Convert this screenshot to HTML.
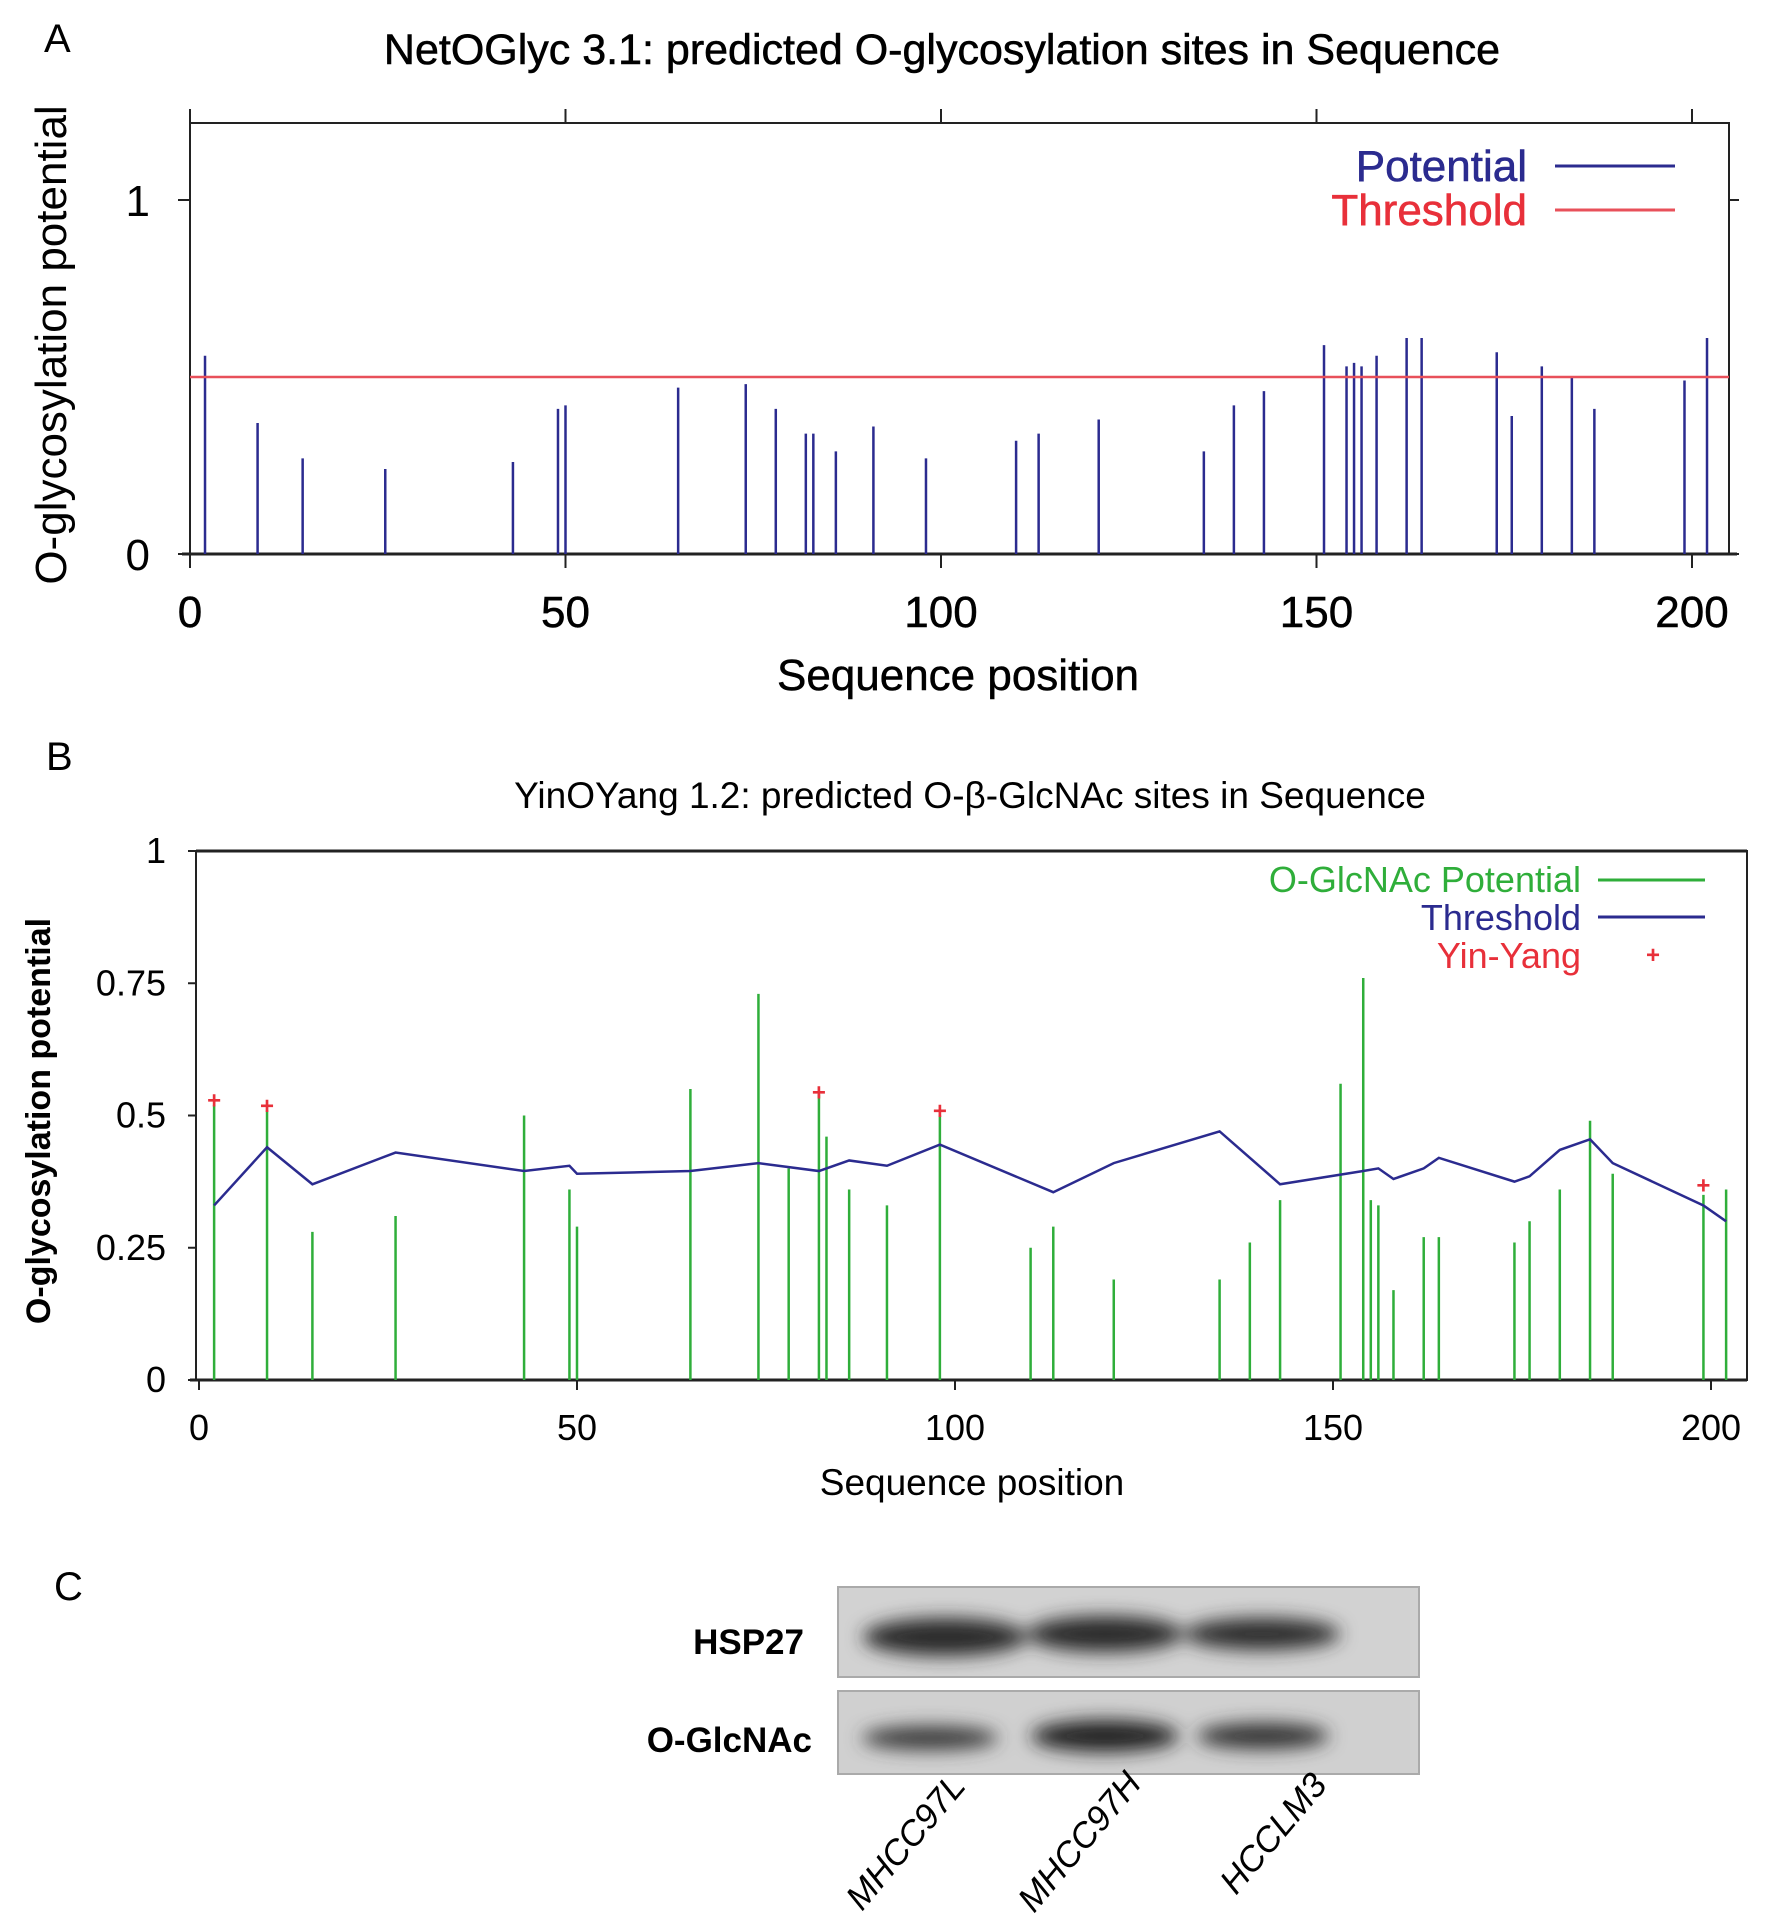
<!DOCTYPE html>
<html><head><meta charset="utf-8"><style>
html,body{margin:0;padding:0;background:#fff;}
svg{display:block;font-family:"Liberation Sans",sans-serif;}
</style></head><body>
<svg id="fig" width="1772" height="1918" viewBox="0 0 1772 1918">
<defs>
<filter id="blur" x="-20%" y="-50%" width="140%" height="200%"><feGaussianBlur stdDeviation="9"/></filter>
</defs>
<text x="44" y="52" font-size="40">A</text>
<text x="942" y="64" font-size="43" text-anchor="middle" stroke="#000" stroke-width="0.6">NetOGlyc 3.1: predicted O-glycosylation sites in Sequence</text>
<g id="pa"></g>
<text x="0" y="0" font-size="44" text-anchor="middle" transform="translate(66,345) rotate(-90)">O-glycosylation potential</text>
<text x="958" y="690" font-size="44" text-anchor="middle" stroke="#000" stroke-width="0.5">Sequence position</text>

<text x="46" y="770" font-size="40">B</text>
<text x="970" y="808" font-size="37" text-anchor="middle">YinOYang 1.2: predicted O-β-GlcNAc sites in Sequence</text>
<g id="pb"></g>
<text x="0" y="0" font-size="34" font-weight="bold" text-anchor="middle" transform="translate(50,1121) rotate(-90)">O-glycosylation potential</text>
<text x="972" y="1495" font-size="37" text-anchor="middle">Sequence position</text>

<text x="54" y="1600" font-size="40">C</text>
<g>
<rect x="838" y="1587" width="581" height="90" fill="#d2d2d2" stroke="#aaa" stroke-width="2"/>
<rect x="838" y="1691" width="581" height="83" fill="#d0d0d0" stroke="#aaa" stroke-width="2"/>
<g filter="url(#blur)">
<ellipse cx="945" cy="1637" rx="82" ry="19" fill="#2a2a2a"/>
<ellipse cx="1105" cy="1634" rx="78" ry="18" fill="#2a2a2a"/>
<ellipse cx="1262" cy="1634" rx="78" ry="16" fill="#2e2e2e"/>
<ellipse cx="930" cy="1738" rx="68" ry="12" fill="#3a3a3a"/>
<ellipse cx="1105" cy="1736" rx="74" ry="16" fill="#222"/>
<ellipse cx="1263" cy="1736" rx="66" ry="13" fill="#333"/>
</g>
</g>
<text x="804" y="1654" font-size="35" font-weight="bold" text-anchor="end">HSP27</text>
<text x="812" y="1752" font-size="35" font-weight="bold" text-anchor="end">O-GlcNAc</text>
<text font-size="35" font-style="italic" transform="translate(862,1912) rotate(-50)">MHCC97L</text>
<text font-size="35" font-style="italic" transform="translate(1034,1914) rotate(-50)">MHCC97H</text>
<text font-size="35" font-style="italic" transform="translate(1236,1896) rotate(-50)">HCCLM3</text>
</svg>
<script>
// Panel A data
const aPositions=[2,9,15,26,43,49,50,65,74,78,82,83,86,91,98,110,113,121,135,139,143,151,154,155,156,158,162,164,174,176,180,184,187,199,202];
const aValues=[0.56,0.37,0.27,0.24,0.26,0.41,0.42,0.47,0.48,0.41,0.34,0.34,0.29,0.36,0.27,0.32,0.34,0.38,0.29,0.42,0.46,0.59,0.53,0.54,0.53,0.56,0.61,0.61,0.57,0.39,0.53,0.50,0.41,0.49,0.61];
const aThreshold=0.5;
const aXTicks=[0,50,100,150,200];
const aYTicks=[0,1];
// Panel B data
const bPositions=[2,9,15,26,43,49,50,65,74,78,82,83,86,91,98,110,113,121,135,139,143,151,154,155,156,158,162,164,174,176,180,184,187,199,202];
const bValues=[0.52,0.51,0.28,0.31,0.50,0.36,0.29,0.55,0.73,0.40,0.54,0.46,0.36,0.33,0.50,0.25,0.29,0.19,0.19,0.26,0.34,0.56,0.76,0.34,0.33,0.17,0.27,0.27,0.26,0.30,0.36,0.49,0.39,0.35,0.36];
const bThreshPos=[2,9,15,26,43,49,50,65,74,82,86,91,98,113,121,135,143,154,156,158,162,164,174,176,180,184,187,199,202];
const bThreshVal=[0.33,0.44,0.37,0.43,0.395,0.405,0.39,0.395,0.41,0.395,0.415,0.405,0.445,0.355,0.41,0.47,0.37,0.395,0.40,0.38,0.40,0.42,0.375,0.385,0.435,0.455,0.41,0.33,0.30];
const bYinYangPos=[2,9,82,98,199];
const bYinYangVal=[0.53,0.52,0.545,0.51,0.37];
const bXTicks=[0,50,100,150,200];
const bYTicks=[0,0.25,0.5,0.75,1];
const bYTickLabels=["0","0.25","0.5","0.75","1"];

const NS="http://www.w3.org/2000/svg";
function mk(parent,tag,attrs){const e=document.createElementNS(NS,tag);for(const k in attrs)e.setAttribute(k,attrs[k]);parent.appendChild(e);return e;}

// ---- Panel A
(function(){
const g=document.getElementById('pa');
const L=190,R=1729,T=123,B=554;
const xs=v=>190+v*(1692-190)/200;
const ys=v=>554-v*(554-200);
let e=mk(g,'rect',{x:L,y:T,width:R-L,height:B-T,fill:'none',stroke:'#222','stroke-width':2});


e=mk(g,'line',{x1:L-8,x2:R+8,y1:B,y2:B,stroke:'#222','stroke-width':3});


aXTicks.forEach(t=>{
 mk(g,'line',{x1:xs(t),x2:xs(t),y1:B,y2:B+14,stroke:'#222','stroke-width':2});
 mk(g,'line',{x1:xs(t),x2:xs(t),y1:T,y2:T-14,stroke:'#222','stroke-width':2});
 const tx=mk(g,'text',{x:xs(t),y:627,'font-size':44,'text-anchor':'middle',stroke:'#000','stroke-width':0.5});tx.textContent=t;
 
 
});
aYTicks.forEach(t=>{
 mk(g,'line',{x1:L-12,x2:L,y1:ys(t),y2:ys(t),stroke:'#222','stroke-width':2});
 mk(g,'line',{x1:R,x2:R+10,y1:ys(t),y2:ys(t),stroke:'#222','stroke-width':2});
 const tx=mk(g,'text',{x:150,y:ys(t)+16,'font-size':44,'text-anchor':'end'});tx.textContent=t;
 
 
});
aPositions.forEach((p,i)=>{
 const b=mk(g,'line',{x1:xs(p),x2:xs(p),y1:B,y2:ys(aValues[i]),stroke:'#2b2b8f','stroke-width':2.5});
 
 
});
e=mk(g,'line',{x1:L,x2:R,y1:ys(aThreshold),y2:ys(aThreshold),stroke:'#e8505a','stroke-width':2.5});


let t1=mk(g,'text',{x:1527,y:181,'font-size':44,fill:'#2b2b8f','text-anchor':'end',stroke:'#2b2b8f','stroke-width':0.6});t1.textContent='Potential';


mk(g,'line',{x1:1555,x2:1675,y1:166,y2:166,stroke:'#2b2b8f','stroke-width':3});
let t2=mk(g,'text',{x:1527,y:225,'font-size':44,fill:'#e8303a','text-anchor':'end',stroke:'#e8303a','stroke-width':0.6});t2.textContent='Threshold';


mk(g,'line',{x1:1555,x2:1675,y1:210,y2:210,stroke:'#e8505a','stroke-width':3});
})();

// ---- Panel B
(function(){
const g=document.getElementById('pb');
const L=196,R=1747,T=851,B=1380;
const xs=v=>199+v*(1711-199)/200;
const ys=v=>1380-v*(1380-851);
let e=mk(g,'rect',{x:L,y:T,width:R-L,height:B-T,fill:'none',stroke:'#222','stroke-width':2});


mk(g,'line',{x1:L,x2:R,y1:T,y2:T,stroke:'#222','stroke-width':3});
e=mk(g,'line',{x1:L-6,x2:R,y1:B,y2:B,stroke:'#222','stroke-width':3});


bXTicks.forEach(t=>{
 mk(g,'line',{x1:xs(t),x2:xs(t),y1:B,y2:B+10,stroke:'#222','stroke-width':2});
 const tx=mk(g,'text',{x:xs(t),y:1440,'font-size':36,'text-anchor':'middle'});tx.textContent=t;
 
 
});
bYTicks.forEach((t,i)=>{
 mk(g,'line',{x1:L-8,x2:L,y1:ys(t),y2:ys(t),stroke:'#222','stroke-width':2});
 const tx=mk(g,'text',{x:166,y:ys(t)+12,'font-size':36,'text-anchor':'end'});tx.textContent=bYTickLabels[i];
 
 
});
bPositions.forEach((p,i)=>{
 const b=mk(g,'line',{x1:xs(p),x2:xs(p),y1:B,y2:ys(bValues[i]),stroke:'#2fae3a','stroke-width':2.5});
 
 
});
const pts=bThreshPos.map((p,i)=>xs(p)+','+ys(bThreshVal[i])).join(' ');
e=mk(g,'polyline',{points:pts,fill:'none',stroke:'#2b2b8f','stroke-width':2.5});


bYinYangPos.forEach((p,i)=>{
 const t=mk(g,'text',{x:xs(p),y:ys(bYinYangVal[i])+9,'font-size':24,'font-weight':'bold',fill:'#e8303a','text-anchor':'middle'});t.textContent='+';
 
 
});
const leg=[['O-GlcNAc Potential','#2fae3a',892],['Threshold','#2b2b8f',930],['Yin-Yang','#e8303a',968]];
leg.forEach((l,i)=>{
 const t=mk(g,'text',{x:1581,y:l[2],'font-size':36,fill:l[1],'text-anchor':'end'});t.textContent=l[0];
 
 
});
mk(g,'line',{x1:1598,x2:1705,y1:880,y2:880,stroke:'#2fae3a','stroke-width':3});
mk(g,'line',{x1:1598,x2:1705,y1:917,y2:917,stroke:'#2b2b8f','stroke-width':3});
let pl=mk(g,'text',{x:1653,y:963,'font-size':24,'font-weight':'bold',fill:'#e8303a','text-anchor':'middle'});pl.textContent='+';
})();
</script>
</body></html>
